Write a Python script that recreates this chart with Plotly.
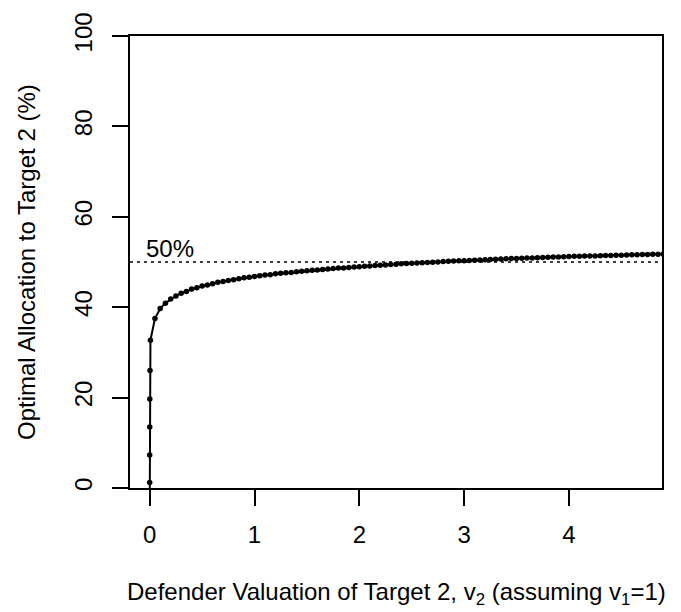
import plotly.graph_objects as go

# Defender valuation of target 2 (v2) and optimal allocation to target 2 (%)
v2 = [0.0, 0.00001, 0.0001, 0.0005, 0.001, 0.003, 0.007,
      0.05, 0.10, 0.15, 0.20, 0.25, 0.30, 0.35, 0.40, 0.45, 0.50,
      0.55, 0.60, 0.65, 0.70, 0.75, 0.80, 0.85, 0.90, 0.95, 1.00,
      1.05, 1.10, 1.15, 1.20, 1.25, 1.30, 1.35, 1.40, 1.45, 1.50,
      1.55, 1.60, 1.65, 1.70, 1.75, 1.80, 1.85, 1.90, 1.95, 2.00,
      2.05, 2.10, 2.15, 2.20, 2.25, 2.30, 2.35, 2.40, 2.45, 2.50,
      2.55, 2.60, 2.65, 2.70, 2.75, 2.80, 2.85, 2.90, 2.95, 3.00,
      3.05, 3.10, 3.15, 3.20, 3.25, 3.30, 3.35, 3.40, 3.45, 3.50,
      3.55, 3.60, 3.65, 3.70, 3.75, 3.80, 3.85, 3.90, 3.95, 4.00,
      4.05, 4.10, 4.15, 4.20, 4.25, 4.30, 4.35, 4.40, 4.45, 4.50,
      4.55, 4.60, 4.65, 4.70, 4.75, 4.80, 4.85, 4.90]
alloc = [-5.0, 1.2, 7.3, 13.5, 19.7, 26.0, 32.7,
         37.5, 39.7, 40.9, 41.8, 42.5, 43.1, 43.5, 44.0, 44.3, 44.7,
         44.9, 45.2, 45.5, 45.7, 45.9, 46.1, 46.3, 46.5, 46.6, 46.8,
         46.95, 47.1, 47.2, 47.4, 47.5, 47.6, 47.7, 47.85, 47.95, 48.05,
         48.15, 48.25, 48.35, 48.45, 48.55, 48.65, 48.7, 48.8, 48.9, 48.95,
         49.05, 49.1, 49.2, 49.3, 49.35, 49.45, 49.5, 49.6, 49.65, 49.7,
         49.8, 49.85, 49.9, 49.95, 50.0, 50.1, 50.15, 50.2, 50.25, 50.3,
         50.35, 50.4, 50.45, 50.5, 50.55, 50.6, 50.65, 50.7, 50.75, 50.8,
         50.85, 50.9, 50.9, 50.95, 51.0, 51.05, 51.1, 51.1, 51.15, 51.2,
         51.25, 51.25, 51.3, 51.35, 51.35, 51.4, 51.45, 51.45, 51.5, 51.5,
         51.55, 51.6, 51.6, 51.65, 51.65, 51.7, 51.7, 51.75]

x_ticks = [0, 1, 2, 3, 4]
y_ticks = [0, 20, 40, 60, 80, 100]
ref_level = 50
ref_label = "50%"

FONT = "Liberation Sans, Arial, sans-serif"
FS = 24

fig = go.Figure()
fig.add_trace(go.Scatter(
    x=v2, y=alloc, mode="lines+markers",
    line=dict(color="black", width=2),
    marker=dict(color="black", size=5.5),
    showlegend=False, hoverinfo="skip",
))

fig.add_hline(y=ref_level, line=dict(color="black", width=1.6, dash="3px,4px"))

fig.add_annotation(
    x=0.19, y=ref_level, xref="x", yref="y", text=ref_label, showarrow=False,
    xanchor="center", yanchor="bottom", yshift=-2,
    font=dict(family=FONT, size=FS, color="black"),
)

fig.add_annotation(
    x=0.5, y=0, xref="paper", yref="paper",
    text="Defender Valuation of Target 2, v<sub>2</sub> (assuming v<sub>1</sub>=1)",
    showarrow=False, xanchor="center", yanchor="top", yshift=-88,
    font=dict(family=FONT, size=FS, color="black"),
)
fig.add_annotation(
    x=0, y=0.5, xref="paper", yref="paper",
    text="Optimal Allocation to Target 2 (%)", textangle=-90,
    showarrow=False, xanchor="center", yanchor="middle", xshift=-104,
    font=dict(family=FONT, size=FS, color="black"),
)

fig.update_xaxes(
    range=[-0.188, 4.888], tickvals=x_ticks, ticktext=[str(t) for t in x_ticks],
    showgrid=False, zeroline=False, showline=True, linecolor="black", linewidth=2,
    mirror=True, ticks="outside", ticklen=16, tickwidth=2, tickcolor="black",
    ticklabelstandoff=8,
    tickfont=dict(family=FONT, size=FS, color="black"),
)
fig.update_yaxes(
    range=[0, 100], tickvals=y_ticks, ticktext=[str(t) for t in y_ticks],
    showgrid=False, zeroline=False, showline=True, linecolor="black", linewidth=2,
    mirror=True, ticks="outside", ticklen=16, tickwidth=2, tickcolor="black",
    tickangle=-90, ticklabelstandoff=10,
    tickfont=dict(family=FONT, size=FS, color="black"),
)

fig.update_layout(
    width=681, height=612,
    margin=dict(l=130, r=19, t=28, b=124),
    plot_bgcolor="white", paper_bgcolor="white",
    font=dict(family=FONT, size=FS, color="black"),
)

fig.write_html("out.html")
